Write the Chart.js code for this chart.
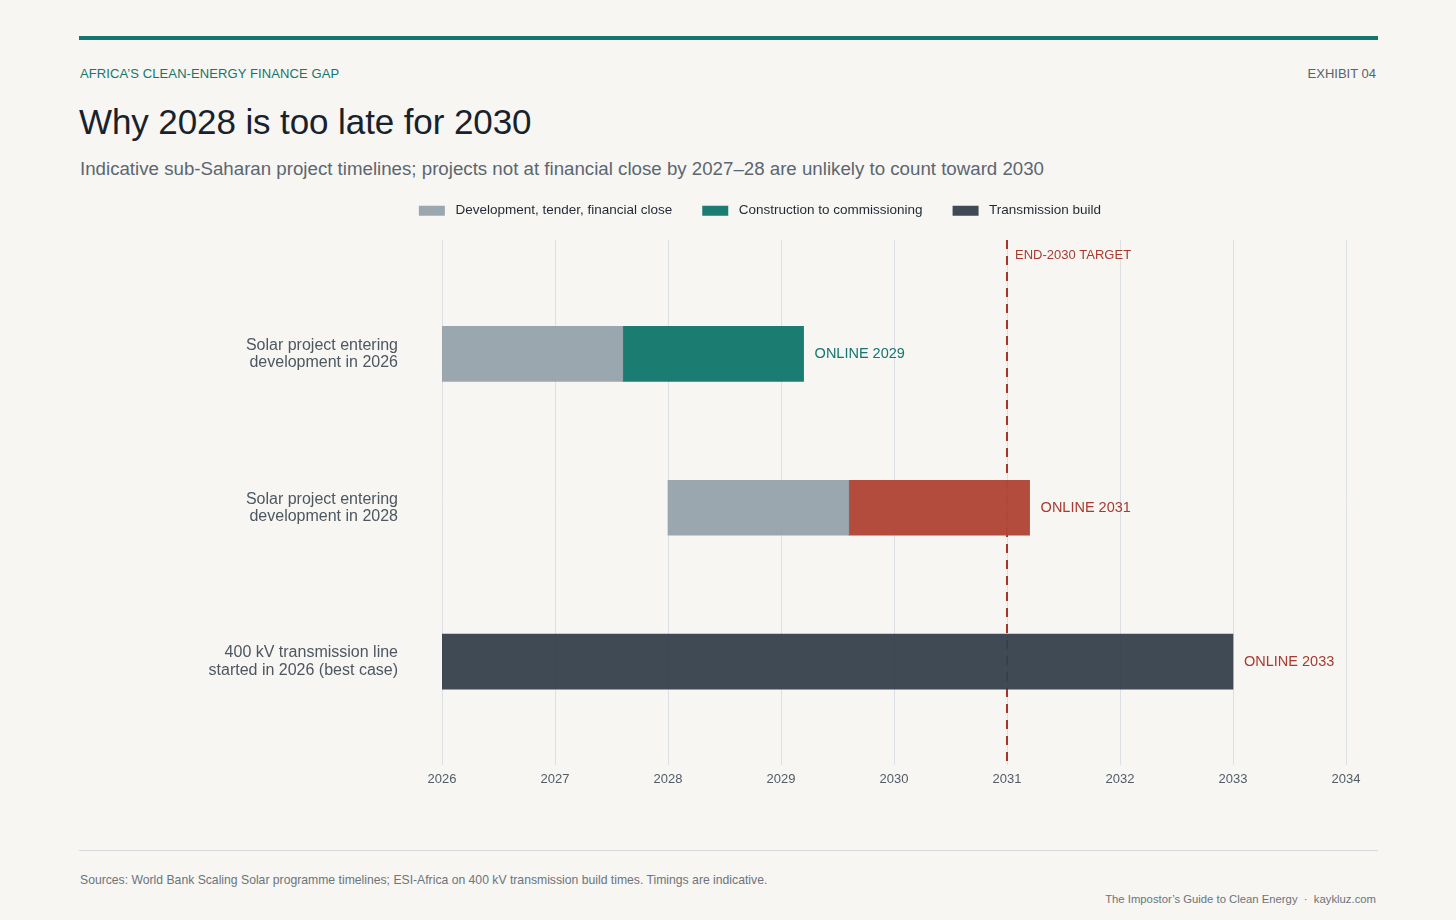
<!DOCTYPE html>
<html>
<head>
<meta charset="utf-8">
<title>Why 2028 is too late for 2030</title>
<script src="https://cdn.jsdelivr.net/npm/chart.js@4.4.1/dist/chart.umd.min.js"></script>
<style>
  html, body { margin: 0; padding: 0; }
  body {
    width: 1456px; height: 920px; position: relative; overflow: hidden;
    background: #f7f6f3;
    font-family: "Liberation Sans", Arial, Helvetica, sans-serif;
  }
  .rule-top { position: absolute; left: 79px; top: 36px; width: 1299px; height: 4px; background: #14766c; }
  .kicker { position: absolute; left: 80px; top: 66px; font-size: 13px; color: #14766c; letter-spacing: 0.1px; }
  .exhibit { position: absolute; right: 80px; top: 66px; font-size: 13px; color: #59636c; }
  h1 { position: absolute; left: 79px; top: 102px; margin: 0; font-size: 35px; font-weight: 400; color: #18222d; letter-spacing: -0.1px; }
  .sub { position: absolute; left: 80px; top: 158px; font-size: 18.7px; color: #5b6670; }
  #wrap { position: absolute; left: 80px; top: 174px; width: 1360px; height: 652px; }
  .rule-bottom { position: absolute; left: 79px; top: 850px; width: 1299px; height: 1px; background: #d8d9da; }
  .sources { position: absolute; left: 80px; top: 873px; font-size: 12.2px; color: #6b747c; }
  .credit { position: absolute; right: 80px; top: 893px; font-size: 11.3px; color: #6b747c; }
</style>
</head>
<body>
<div class="rule-top"></div>
<div class="kicker">AFRICA’S CLEAN-ENERGY FINANCE GAP</div>
<div class="exhibit">EXHIBIT 04</div>
<h1>Why 2028 is too late for 2030</h1>
<div class="sub">Indicative sub-Saharan project timelines; projects not at financial close by 2027–28 are unlikely to count toward 2030</div>
<div id="wrap"><canvas id="chart"></canvas></div>
<div class="rule-bottom"></div>
<div class="sources">Sources: World Bank Scaling Solar programme timelines; ESI-Africa on 400 kV transmission build times. Timings are indicative.</div>
<div class="credit">The Impostor’s Guide to Clean Energy &nbsp;·&nbsp; kaykluz.com</div>

<script>
// DATA
const rowLabels = [
  ['Solar project entering', 'development in 2026'],
  ['Solar project entering', 'development in 2028'],
  ['400 kV transmission line', 'started in 2026 (best case)']
];
const devStart = [2026, 2028, null];
const devEnd = [2027.6, 2029.6, null];
const buildStart = [2027.6, 2029.6, null];
const buildEnd = [2029.2, 2031.2, null];
const lineStart = [null, null, 2026];
const lineEnd = [null, null, 2033];
const onlineYears = [2029, 2031, 2033];
const yearTicks = [2026, 2027, 2028, 2029, 2030, 2031, 2032, 2033, 2034];
const targetYear = 2031; // end of 2030
const targetLabel = 'END-2030 TARGET';

// COLOURS
const GRAY = 'rgba(150, 162, 171, 0.95)';
const TEAL = 'rgba(20, 120, 108, 0.97)';
const RED = 'rgba(178, 70, 55, 0.97)';
const DARK = 'rgba(52, 63, 74, 0.94)';
const TEAL_TXT = '#14766c';
const RED_TXT = '#a83a2f';
const FONT = '"Liberation Sans", Arial, sans-serif';

// build floating bar points, skipping empty rows
function spans(starts, ends) {
  const out = [];
  starts.forEach((s, i) => {
    if (s !== null && ends[i] !== null) out.push({ y: i, x: [s, ends[i]] });
  });
  return out;
}

// extra gap under the legend
const legendGap = {
  id: 'legendGap',
  beforeInit(chart) {
    const fit = chart.legend.fit;
    chart.legend.fit = function () {
      fit.bind(chart.legend)();
      this.height += 12.5;
    };
  }
};

// target line (under bars) + end labels (over bars)
const overlay = {
  id: 'overlay',
  beforeDatasetsDraw(chart) {
    const { ctx, chartArea, scales } = chart;
    const x = scales.x.getPixelForValue(targetYear);
    ctx.save();
    ctx.strokeStyle = '#a5352b';
    ctx.lineWidth = 2;
    ctx.setLineDash([9, 7]);
    ctx.beginPath();
    ctx.moveTo(x, chartArea.top);
    ctx.lineTo(x, chartArea.bottom);
    ctx.stroke();
    ctx.setLineDash([]);
    ctx.fillStyle = RED_TXT;
    ctx.font = '13px ' + FONT;
    ctx.textBaseline = 'middle';
    ctx.fillText(targetLabel, x + 8, chartArea.top + 15);
    ctx.restore();
  },
  afterDatasetsDraw(chart) {
    const { ctx, scales } = chart;
    ctx.save();
    ctx.font = '14.5px ' + FONT;
    ctx.textBaseline = 'middle';
    rowLabels.forEach((_, i) => {
      const end = Math.max(...[devEnd[i], buildEnd[i], lineEnd[i]].filter(v => v !== null));
      const px = scales.x.getPixelForValue(end);
      const py = scales.y.getPixelForValue(i);
      ctx.fillStyle = onlineYears[i] < targetYear ? TEAL_TXT : RED_TXT;
      ctx.fillText('ONLINE ' + onlineYears[i], px + 11, py);
    });
    ctx.restore();
  }
};

const ctx = document.getElementById('chart').getContext('2d');
const chart = new Chart(ctx, {
  type: 'bar',
  data: {
    datasets: [
      {
        label: 'Development, tender, financial close',
        data: spans(devStart, devEnd),
        backgroundColor: GRAY
      },
      {
        label: 'Construction to commissioning',
        data: spans(buildStart, buildEnd),
        backgroundColor: c => (c.raw && c.raw.x[1] > targetYear) ? RED : TEAL
      },
      {
        label: 'Transmission build',
        data: spans(lineStart, lineEnd),
        backgroundColor: DARK
      }
    ]
  },
  options: {
    indexAxis: 'y',
    responsive: true,
    maintainAspectRatio: false,
    animation: false,
    grouped: false,
    barThickness: 55,
    borderSkipped: false,
    layout: { padding: { top: 0, right: 94, bottom: 0, left: 94 } },
    plugins: {
      tooltip: { enabled: false },
      legend: {
        position: 'top',
        align: 'center',
        labels: {
          boxWidth: 26,
          boxHeight: 10,
          padding: 30,
          color: '#1f2933',
          font: { family: FONT, size: 13.5 },
          generateLabels: c => Chart.defaults.plugins.legend.labels.generateLabels(c)
            .map(l => Object.assign(l, { text: ' ' + l.text }))
        }
      }
    },
    scales: {
      x: {
        type: 'linear',
        min: yearTicks[0],
        max: yearTicks[yearTicks.length - 1],
        afterBuildTicks: s => { s.ticks = yearTicks.map(v => ({ value: v })); },
        afterFit: s => { s.height = 30; },
        border: { display: false },
        grid: { color: '#dcdfe3', lineWidth: 1, drawTicks: false },
        ticks: {
          padding: 7,
          color: '#515b65',
          font: { family: FONT, size: 13 },
          callback: v => String(v)
        }
      },
      y: {
        type: 'linear',
        reverse: true,
        offset: false,
        bounds: 'data',
        min: -0.74,
        max: 2.67,
        afterBuildTicks: s => { s.ticks = rowLabels.map((_, i) => ({ value: i })); },
        afterFit: s => { s.width = 268; },
        border: { display: false },
        grid: { display: false, drawTicks: false },
        ticks: {
          padding: 44,
          color: '#4d5761',
          font: { family: FONT, size: 16, lineHeight: 1.08 },
          callback: v => rowLabels[v]
        }
      }
    }
  },
  plugins: [legendGap, overlay]
});
</script>
</body>
</html>
